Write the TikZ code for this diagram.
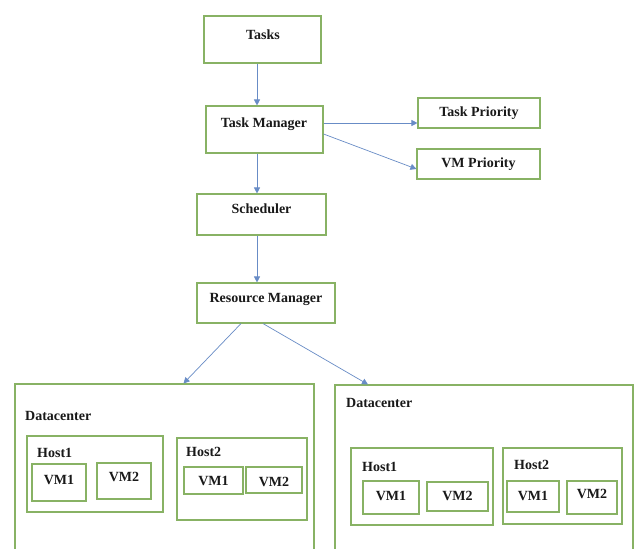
\documentclass[tikz,border=0pt]{standalone}
\usepackage{fontspec}
\setmainfont{Liberation Serif}
\usetikzlibrary{arrows.meta}
\definecolor{boxgreen}{RGB}{136,178,100}
\definecolor{arrowblue}{RGB}{104,140,198}
\begin{document}
\begin{tikzpicture}[x=1pt, y=-1pt]
      \tikzset{
	  box/.style={rectangle, draw=boxgreen, line width=1.1pt, inner sep=0pt},
	  lbl/.style={font=\fontsize{14}{16}\selectfont\bfseries, inner sep=0pt, text=black!90},
	  arr/.style={draw=arrowblue, line width=0.7pt, -{Triangle[width=6pt,length=6pt]}}
      }

      \clip (0,0) rectangle (635,549);
      \fill[white] (0,0) rectangle (635,549);

      \node[box, minimum width=117, minimum height=47] (tasks) at (262.5,39.5) {};
      \node[lbl] (tasks-t) at (263,35) {Tasks};
      \node[box, minimum width=117, minimum height=47] (tm) at (264.5,129.5) {};
      \node[lbl] (tm-t) at (264,124) {Task Manager};
      \node[box, minimum width=122, minimum height=30] (tp) at (479,113) {};
      \node[lbl] (tp-t) at (479,113) {Task Priority};
      \node[box, minimum width=123, minimum height=30] (vmp) at (478.5,164) {};
      \node[lbl] (vmp-t) at (478.5,164) {VM Priority};
      \node[box, minimum width=129, minimum height=41] (sch) at (261.5,214.5) {};
      \node[lbl] (sch-t) at (261.5,209) {Scheduler};
      \node[box, minimum width=138, minimum height=40] (rm) at (266,303) {};
      \node[lbl] (rm-t) at (266,299) {Resource Manager};

      \node[box, minimum width=299, minimum height=220] (dc1) at (164.5,494) {};
      \node[lbl, anchor=west] (dc1-t) at (25,416) {Datacenter};
      \node[box, minimum width=136, minimum height=76] (h11) at (95,474) {};
      \node[lbl, anchor=west] (h11-t) at (37,453) {Host1};
      \node[box, minimum width=54, minimum height=37] (v111) at (59,482.5) {};
      \node[lbl] (v111-t) at (59,480) {VM1};
      \node[box, minimum width=54, minimum height=36] (v112) at (124,481) {};
      \node[lbl] (v112-t) at (124,477) {VM2};
      \node[box, minimum width=130, minimum height=82] (h12) at (242,479) {};
      \node[lbl, anchor=west] (h12-t) at (186,452) {Host2};
      \node[box, minimum width=59, minimum height=27] (v121) at (213.5,480.5) {};
      \node[lbl] (v121-t) at (213.5,481) {VM1};
      \node[box, minimum width=56, minimum height=26] (v122) at (274,480) {};
      \node[lbl] (v122-t) at (274,482) {VM2};

      \node[box, minimum width=298, minimum height=220] (dc2) at (484,495) {};
      \node[lbl, anchor=west] (dc2-t) at (346,403) {Datacenter};
      \node[box, minimum width=142, minimum height=77] (h21) at (422,486.5) {};
      \node[lbl, anchor=west] (h21-t) at (362,467) {Host1};
      \node[box, minimum width=56, minimum height=33] (v211) at (391,497.5) {};
      \node[lbl] (v211-t) at (391,496) {VM1};
      \node[box, minimum width=61, minimum height=29] (v212) at (457.5,496.5) {};
      \node[lbl] (v212-t) at (457.5,496) {VM2};
      \node[box, minimum width=119, minimum height=76] (h22) at (562.5,486) {};
      \node[lbl, anchor=west] (h22-t) at (514,465) {Host2};
      \node[box, minimum width=52, minimum height=31] (v221) at (533,496.5) {};
      \node[lbl] (v221-t) at (533,496) {VM1};
      \node[box, minimum width=50, minimum height=33] (v222) at (592,497.5) {};
      \node[lbl] (v222-t) at (592,494) {VM2};

      \coordinate (axis) at (257,0);
      \draw[arr] (tasks.south -| axis) -- (tm.north -| axis);
      \draw[arr] (tm.south -| axis) -- (sch.north -| axis);
      \draw[arr] (sch.south -| axis) -- (rm.north -| axis);
      \draw[arr] ([yshift=6.5pt]tm.east) -- ([yshift=-10pt]tp.west);
      \draw[arr] ([yshift=-4.5pt]tm.east) -- ([yshift=-5pt]vmp.west);
      \draw[arr] ([xshift=-25pt]rm.south) -- ([xshift=19pt]dc1.north);
      \draw[arr] ([xshift=-3pt]rm.south) -- ([xshift=-116pt]dc2.north);
    \end{tikzpicture}
\end{document}
